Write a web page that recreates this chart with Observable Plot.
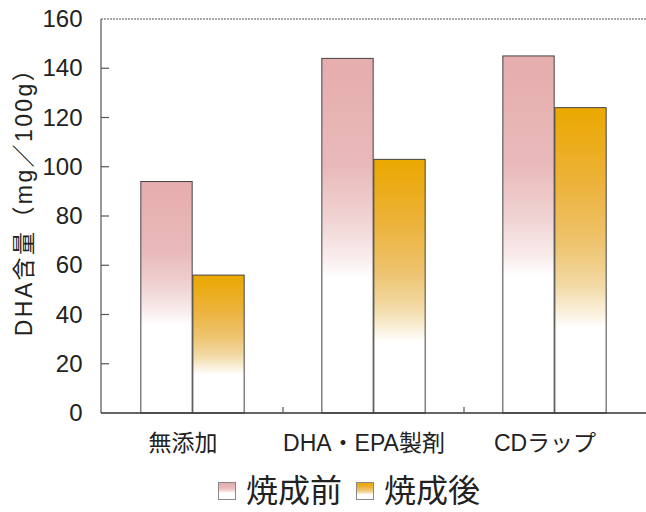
<!DOCTYPE html>
<html>
<head>
<meta charset="utf-8">
<script src="https://cdn.jsdelivr.net/npm/d3@7"></script>
<script src="https://cdn.jsdelivr.net/npm/@observablehq/plot@0.6"></script>
<style>
  body { margin: 0; background: #fff; }
  #chart { width: 646px; }
  .legend {
    height: 42px; display: flex; align-items: center; justify-content: center;
    padding-left: 66px; box-sizing: border-box;
    font-family: "Liberation Sans", "Noto Sans CJK JP", sans-serif; font-size: 32px; color: #222;
  }
  .legend .sw { width: 18px; height: 18px; border: 1px solid #888; margin: 0 10px 0 0; box-sizing: border-box; }
  .legend .item { display: flex; align-items: center; margin-right: 14px; line-height: 1; }
</style>
</head>
<body>
<svg width="0" height="0" style="position:absolute">
  <defs>
    <linearGradient id="grad-before" x1="0" y1="0" x2="0" y2="1">
      <stop offset="0" stop-color="#e6adad"/>
      <stop offset="0.3" stop-color="#e9b9b9"/>
      <stop offset="0.45" stop-color="#f0d2d2"/>
      <stop offset="0.56" stop-color="#f9ecec"/>
      <stop offset="0.62" stop-color="#ffffff"/>
      <stop offset="1" stop-color="#ffffff"/>
    </linearGradient>
    <linearGradient id="grad-after" x1="0" y1="0" x2="0" y2="1">
      <stop offset="0" stop-color="#eba800"/>
      <stop offset="0.25" stop-color="#ecb23a"/>
      <stop offset="0.45" stop-color="#eec470"/>
      <stop offset="0.58" stop-color="#f2d9a4"/>
      <stop offset="0.68" stop-color="#fbf3e2"/>
      <stop offset="0.72" stop-color="#ffffff"/>
      <stop offset="1" stop-color="#ffffff"/>
    </linearGradient>
  </defs>
</svg>
<div id="chart"></div>
<script>
// Treatment groups on the x axis
const categories = ["無添加", "DHA・EPA製剤", "CDラップ"];
// DHA content (mg/100g) before and after baking
const beforeBaking = [94, 144, 145];
const afterBaking = [56, 103, 124];
const seriesNames = ["焼成前", "焼成後"];
const yTicks = [0, 20, 40, 60, 80, 100, 120, 140, 160];
const yLabel = "DHA含量（mg／100g）";

const W = 646, H = 470;
const mLeft = 101, mRight = 0, mTop = 19, mBottom = 57;
const step = (W - mLeft - mRight) / categories.length;
const barW = 52;

const before = categories.map((c, i) => ({category: c, value: beforeBaking[i]}));
const after = categories.map((c, i) => ({category: c, value: afterBaking[i]}));

const font = '"Liberation Sans", "Noto Sans CJK JP", sans-serif';

// Frame lines, inner y ticks and group separators drawn from the scales
function axes(index, scales, values, dims) {
  const {x, y} = scales;
  const g = d3.create("svg:g");
  const left = dims.marginLeft, right = dims.width - dims.marginRight;
  g.append("line").attr("x1", left).attr("x2", right).attr("y1", y(160)).attr("y2", y(160))
    .attr("stroke", "#8a8a8a").attr("stroke-width", 1.5).attr("stroke-dasharray", "2,1");
  g.append("line").attr("x1", left).attr("x2", left).attr("y1", y(160)).attr("y2", y(0))
    .attr("stroke", "#555").attr("stroke-width", 1.2);
  g.append("line").attr("x1", left).attr("x2", right).attr("y1", y(0)).attr("y2", y(0))
    .attr("stroke", "#333").attr("stroke-width", 1.5);
  for (const t of yTicks.slice(1, -1)) {
    g.append("line").attr("x1", left).attr("x2", left + 8).attr("y1", y(t)).attr("y2", y(t))
      .attr("stroke", "#555").attr("stroke-width", 1.2);
  }
  for (const c of categories.slice(1)) {
    const bx = x(c);
    g.append("line").attr("x1", bx).attr("x2", bx).attr("y1", y(0)).attr("y2", y(0) - 6)
      .attr("stroke", "#555").attr("stroke-width", 1.2);
  }
  return g.node();
}

// Rotated y-axis title, letter-spaced
function yTitle(index, scales, values, dims) {
  const cy = dims.marginTop + (dims.height - dims.marginTop - dims.marginBottom) / 2 - 20;
  const t = d3.create("svg:text")
    .attr("transform", `translate(24,${cy}) rotate(-90)`)
    .attr("text-anchor", "middle")
    .attr("dominant-baseline", "central")
    .attr("font-size", 23)
    .attr("letter-spacing", "2.4px")
    .attr("fill", "#222")
    .text(yLabel);
  return t.node();
}

const chart = Plot.plot({
  width: W,
  height: H,
  marginLeft: mLeft,
  marginRight: mRight,
  marginTop: mTop,
  marginBottom: mBottom,
  style: {fontFamily: font, background: "#fff", overflow: "visible"},
  x: {type: "band", domain: categories, padding: 0},
  y: {domain: [0, 160]},
  marks: [
    Plot.barY(before, {
      x: "category", y: "value", fill: "url(#grad-before)", stroke: "#444", strokeWidth: 1,
      insetLeft: step / 2 - barW, insetRight: step / 2
    }),
    Plot.barY(after, {
      x: "category", y: "value", fill: "url(#grad-after)", stroke: "#444", strokeWidth: 1,
      insetLeft: step / 2, insetRight: step / 2 - barW
    }),
    axes,
    Plot.axisY({ticks: yTicks, tickSize: 0, tickPadding: 19, fontSize: 24, label: null, fill: "#222"}),
    Plot.axisX({tickSize: 0, tickPadding: 21, fontSize: 23, dx: -10, label: null, fill: "#222"}),
    yTitle
  ]
});
document.getElementById("chart").append(chart);

// Legend below the plot
const legend = d3.select("body").append("div").attr("class", "legend");
const grads = ["grad-before", "grad-after"];
seriesNames.forEach((name, i) => {
  const item = legend.append("div").attr("class", "item");
  item.append("div").attr("class", "sw").style("background", "none")
    .html(`<svg width="16" height="16" style="display:block"><rect width="16" height="16" fill="url(#${grads[i]})"/></svg>`);
  item.append("span").text(name);
});
</script>
</body>
</html>
